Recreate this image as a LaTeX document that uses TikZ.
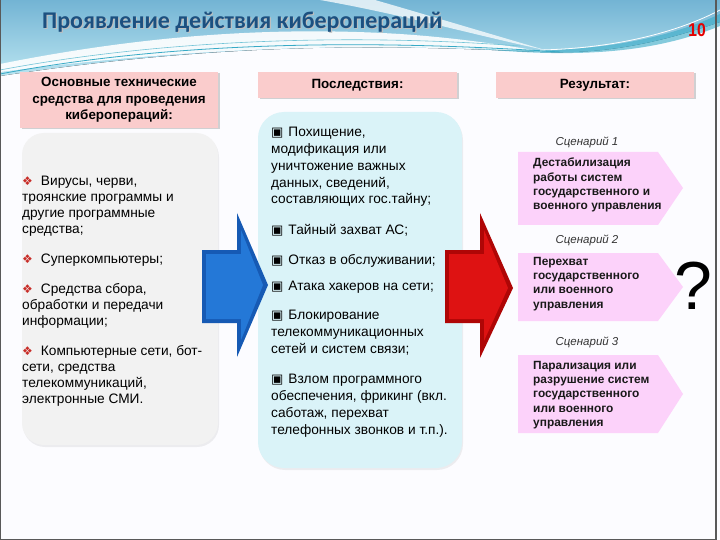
\documentclass[tikz,border=0pt]{standalone}
\usepackage{fontspec}
\setmainfont{Liberation Sans}
\newfontfamily\titlefont{Carlito}
\newfontfamily\symfont{DejaVu Sans}
\usepackage{tikz}
\usetikzlibrary{shadows,positioning}
\definecolor{cyblue}{RGB}{28,80,128}
\definecolor{cyred}{RGB}{228,0,0}
\definecolor{cypink}{RGB}{250,204,204}
\definecolor{cyviolet}{RGB}{252,210,250}
\definecolor{cygray}{RGB}{242,242,242}
\definecolor{cyice}{RGB}{218,243,248}
\definecolor{cyskytop}{RGB}{115,180,212}
\definecolor{cyskybot}{RGB}{185,228,240}
\definecolor{cyteal}{RGB}{55,170,198}
\definecolor{arrblue}{RGB}{22,90,180}
\definecolor{arrbluel}{RGB}{36,120,215}
\definecolor{arrred}{RGB}{175,6,6}
\definecolor{arrredl}{RGB}{222,18,18}
\definecolor{bulred}{RGB}{200,45,40}
\tikzstyle{headbox} = [fill=cypink, inner sep=0pt, drop shadow={opacity=0.35,shadow xshift=1.5pt,shadow yshift=-1.5pt}]
\tikzstyle{headtext} = [font=\fontsize{13.4}{16.5}\selectfont\bfseries, align=center]
\tikzstyle{panel} = [rounded corners=22pt, inner sep=0pt, drop shadow={opacity=0.12,shadow xshift=1pt,shadow yshift=-2pt}]
\tikzstyle{item} = [font=\fontsize{13.7}{16}\selectfont, align=left, anchor=north west, inner sep=0pt]
\tikzstyle{mitem} = [font=\fontsize{13.7}{16.8}\selectfont, align=left, anchor=north west, inner sep=0pt]
\tikzstyle{scen} = [font=\fontsize{11.5}{14}\selectfont\itshape, text=black!80]
\tikzstyle{restext} = [font=\fontsize{11.9}{14.3}\selectfont\bfseries, align=left, anchor=north west, inner sep=0pt, text=black!90]
\tikzstyle{titletext} = [font=\titlefont\fontsize{24}{24}\selectfont\bfseries, anchor=west, inner sep=0pt]
\newcommand{\lbul}{{\symfont\fontsize{12}{12}\selectfont\color{bulred}❖}\hspace{8pt}}
\newcommand{\mbul}{{\symfont\fontsize{13}{13}\selectfont ▣}\hspace{5pt}}

\begin{document}
\begin{tikzpicture}[x=1pt, y=-1pt]
\useasboundingbox (0,0) rectangle (720,540);
% Background and header waves
\fill[white!99!blue] (0,0) rectangle (720,540);
\fill[top color=cyskytop, bottom color=cyskybot] (0,0) -- (720,0) -- (720,22)
  .. controls (650,46) and (600,54) .. (540,52) .. controls (420,47) and (250,38) .. (0,76) -- cycle;
\fill[white, opacity=0.9] (0,64) .. controls (140,36) and (270,26) .. (400,34)
  .. controls (460,38) and (510,46) .. (545,52) .. controls (420,46) and (250,40) .. (0,72) -- cycle;
\fill[white, opacity=0.75] (320,0) .. controls (400,14) and (470,34) .. (545,50)
  .. controls (470,28) and (410,10) .. (375,0) -- cycle;
\fill[cyteal, opacity=0.6] (470,48) .. controls (580,56) and (660,42) .. (720,14)
  -- (720,26) .. controls (660,50) and (590,60) .. (470,48) -- cycle;
\draw[cyteal, line width=0.8pt] (0,74) .. controls (180,40) and (380,40) .. (560,52);
\draw[cyteal!70, line width=0.6pt] (0,70) .. controls (170,38) and (360,34) .. (520,46);
\draw[white, line width=0.8pt] (540,50) .. controls (630,48) and (690,26) .. (720,10);

% Title and page number
\node[titletext, text=black!25] at (43.2,23.2) {Проявление действия киберопераций};
\node[titletext, text=cyblue] (title) at (42,22) {Проявление действия киберопераций};
\node[font=\fontsize{18.5}{18.5}\selectfont\bfseries, text=cyred, xscale=0.85] (pagenum) at (697,30) {10};

% Column headers
\node[headbox, minimum width=198pt, minimum height=56pt, headtext] (hdtools) at (119,100) {Основные технические\\средства для проведения\\киберопераций:};
\node[headbox, minimum width=199pt, minimum height=26pt, headtext] (hdeffects) at (357.5,85) {Последствия:};
\node[headbox, minimum width=198pt, minimum height=26pt, headtext] (hdresult) at (595,85) {Результат:};

% Panels
\node[panel, fill=cygray, minimum width=196pt, minimum height=312pt] (toolsbg) at (120,289) {};
\node[panel, fill=cyice, rounded corners=26pt, minimum width=204pt, minimum height=356pt] (effectsbg) at (360,290) {};

% Block arrows
\fill[arrblue] (202,250) -- (237,250) -- (237,213) -- (268,285) -- (237,357) -- (237,323) -- (202,323) -- cycle;
\fill[arrbluel] (206,254) -- (241,254) -- (241,230) -- (263,285) -- (241,340) -- (241,319) -- (206,319) -- cycle;
\fill[arrred] (445,250) -- (480,250) -- (480,213) -- (513,288) -- (480,358) -- (480,323) -- (445,323) -- cycle;
\fill[arrredl] (449,254) -- (484,254) -- (484,230) -- (508,288) -- (484,341) -- (484,319) -- (449,319) -- cycle;

% Tools
\node[item] (tool1) at (22,176) {\lbul Вирусы, черви,\\троянские программы и\\другие программные\\средства;};
\node[item] (tool2) at (22,254) {\lbul Суперкомпьютеры;};
\node[item] (tool3) at (22,283) {\lbul Средства сбора,\\обработки  и передачи\\информации;};
\node[item] (tool4) at (22,345) {\lbul Компьютерные сети, бот-\\сети, средства\\телекоммуникаций,\\электронные СМИ.};

% Effects
\node[mitem] (eff1) at (271,127) {\mbul Похищение,\\модификация или\\уничтожение важных\\данных, сведений,\\составляющих гос.тайну;};
\node[mitem] (eff2) at (271,224) {\mbul Тайный захват АС;};
\node[mitem] (eff3) at (271,254) {\mbul Отказ в обслуживании;};
\node[mitem] (eff4) at (271,281) {\mbul Атака хакеров на сети;};
\node[mitem] (eff5) at (271,310) {\mbul Блокирование\\телекоммуникационных\\сетей и систем связи;};
\node[mitem] (eff6) at (271,374) {\mbul Взлом программного\\обеспечения, фрикинг (вкл.\\саботаж, перехват\\телефонных звонков и т.п.).};

% Scenarios
\fill[cyviolet] (518,152) -- (658,152) -- (683,188) -- (658,225) -- (518,225) -- cycle;
\fill[cyviolet] (518,253) -- (658,253) -- (683,287) -- (658,321) -- (518,321) -- cycle;
\fill[cyviolet] (518,355) -- (658,355) -- (683,394) -- (658,433) -- (518,433) -- cycle;
\node[scen] (scen1) at (587,142) {Сценарий 1};
\node[scen] (scen2) at (587,240) {Сценарий 2};
\node[scen] (scen3) at (587,342) {Сценарий 3};
\node[restext] (res1) at (533,158) {Дестабилизация\\работы систем\\государственного и\\военного управления};
\node[restext] (res2) at (533,257) {Перехват\\государственного\\или военного\\управления};
\node[restext] (res3) at (533,361) {Парализация или\\разрушение систем\\государственного\\или военного\\управления};
\node[font=\fontsize{68}{68}\selectfont] (quest) at (693,286) {?};

% Frame
\draw[black!65, line width=1.2pt] (0.6,0) -- (0.6,539.4) -- (716,539.4) -- (716,0);
\end{tikzpicture}
\end{document}
